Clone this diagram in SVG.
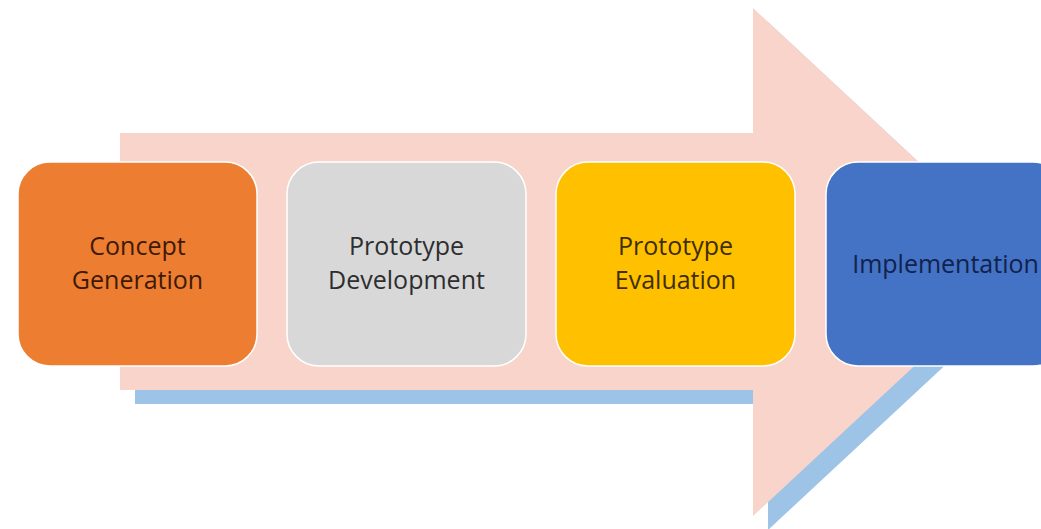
<svg xmlns="http://www.w3.org/2000/svg" width="1041" height="529" viewBox="0 0 1041 529">
  <defs>
    <style>
      .step { stroke: #ffffff; stroke-width: 1.5; }
      .label { font-family: "Open Sans", "Liberation Sans", sans-serif; font-size: 25px; font-weight: 500; text-anchor: middle; }
    </style>
    <path id="arrow-shape" d="M120,133 L753,133 L753,8 L1026,262 L753,516 L753,390 L120,390 Z"/>
  </defs>

  <rect width="1041" height="529" fill="#ffffff"/>

  <!-- process arrow with its drop shadow -->
  <g id="arrow">
    <use href="#arrow-shape" transform="translate(15,14)" fill="#9DC3E6"/>
    <use href="#arrow-shape" fill="#F8D4CA"/>
  </g>

  <g id="connectors"></g>

  <g id="concept-generation">
    <rect class="step" x="18" y="162" width="239" height="204" rx="32" fill="#ED7D31"/>
    <text class="label" fill="#3E1A06"><tspan x="137.5" y="255">Concept</tspan><tspan x="137.5" y="289">Generation</tspan></text>
  </g>

  <g id="prototype-development">
    <rect class="step" x="287" y="162" width="239" height="204" rx="32" fill="#D8D8D8"/>
    <text class="label" fill="#2E2E2E"><tspan x="406.5" y="255">Prototype</tspan><tspan x="406.5" y="289">Development</tspan></text>
  </g>

  <g id="prototype-evaluation">
    <rect class="step" x="556" y="162" width="239" height="204" rx="32" fill="#FFC000"/>
    <text class="label" fill="#3F2E00"><tspan x="675.5" y="255">Prototype</tspan><tspan x="675.5" y="289">Evaluation</tspan></text>
  </g>

  <g id="implementation">
    <rect class="step" x="826" y="162" width="239" height="204" rx="32" fill="#4472C4"/>
    <text class="label" x="945.5" y="273" fill="#10224D">Implementation</text>
  </g>
</svg>
